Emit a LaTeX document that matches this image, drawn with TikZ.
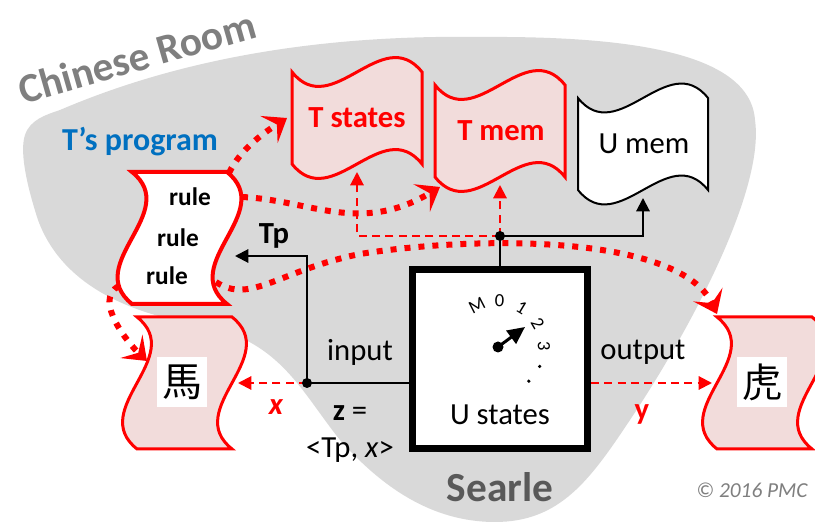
\documentclass[tikz,border=0pt]{standalone}
\usepackage{fontspec}
\setmainfont{Carlito}
\newfontfamily\cjk{Noto Sans CJK TC}
\usetikzlibrary{arrows.meta}

\definecolor{roomgray}{HTML}{D9D9D9}
\definecolor{scrollpink}{HTML}{F2DCDB}
\definecolor{progblue}{HTML}{0070C0}
\definecolor{titlegray}{HTML}{7F7F7F}
\definecolor{searlegray}{HTML}{595959}

\tikzset{
  % horizontal wave banner, origin at its top left corner
  hscroll/.pic={
    \path[pic actions] (0,0) .. controls (40,50) and (90,-50) .. (130,0) -- (130,92)
      .. controls (90,42) and (40,142) .. (0,92) -- cycle;
    \coordinate (-w) at (-5,46);
    \coordinate (-s) at (65,100);
    \coordinate (-sw) at (5,102);
  },
  % upright wave banner, origin at its top left corner
  vscroll/.pic={
    \path[pic actions] (0,0) -- (95,0) .. controls (145,40) and (45,92) .. (95,132) -- (0,132)
      .. controls (-50,92) and (50,40) .. cycle;
    \coordinate (-nw) at (0,-3);
    \coordinate (-ne) at (97,1);
    \coordinate (-e1) at (110,25);
    \coordinate (-e2) at (84,110);
    \coordinate (-e3) at (103,84);
    \coordinate (-e) at (101,66);
    \coordinate (-w1) at (10,44);
    \coordinate (-w2) at (-13,114);
    \coordinate (-w) at (-5,66);
  }
}

\begin{document}
\begin{tikzpicture}[x=0.75pt,y=-0.75pt,
  txt/.style={font=\fontsize{23}{26}\selectfont},
  bold txt/.style={font=\fontsize{23}{26}\selectfont\bfseries},
  rule txt/.style={font=\fontsize{19}{21}\selectfont\bfseries},
  wire/.style={line width=1.5pt},
  red dash/.style={red,line width=1.5pt,dash pattern=on 6pt off 4pt,-{Triangle[length=10pt,width=10pt]}},
  red dots/.style={red,line width=4.5pt,dash pattern=on 4.5pt off 6pt,-{Stealth[length=16pt,width=24pt,inset=7pt]}}]
  \useasboundingbox (0,0) rectangle (815,523);

  % the room
  \fill[roomgray] (60,110) .. controls (200,50) and (350,35) .. (480,37)
    .. controls (620,36) and (750,50) .. (755,120)
    .. controls (765,190) and (690,330) .. (630,420)
    .. controls (590,480) and (560,522) .. (495,522)
    .. controls (430,522) and (380,485) .. (340,440)
    .. controls (300,390) and (280,340) .. (200,325)
    .. controls (120,312) and (60,280) .. (38,220)
    .. controls (25,180) and (20,150) .. (25,135)
    .. controls (30,120) and (45,115) .. (60,110) -- cycle;
  \node[font=\fontsize{31}{34}\selectfont\bfseries,text=titlegray,rotate=16] (room) at (137,57) {Chinese Room};
  \node[font=\fontsize{24}{28}\selectfont\bfseries,text=progblue] (prog) at (140,142) {T’s program};

  % scrolls
  \pic[draw=red,fill=white,line width=3pt] (rl) at (132,172) {vscroll};
  \pic[draw=red,fill=scrollpink,line width=2.25pt] (hs) at (137,317) {vscroll};
  \pic[draw=red,fill=scrollpink,line width=2.25pt] (tg) at (717,317) {vscroll};
  \pic[draw=red,fill=scrollpink,line width=2.25pt] (ts) at (292,72) {hscroll};
  \pic[draw=red,fill=scrollpink,line width=2.25pt] (tm) at (435,85) {hscroll};
  \pic[draw=black,fill=white,line width=1.5pt] (um) at (578,98) {hscroll};

  \node[bold txt,text=red] (tstates) at (357,118) {T states};
  \node[bold txt,text=red] (tmemory) at (501,131) {T mem};
  \node[txt] (umemory) at (644,144) {U mem};
  \node[rule txt] (rule1) at (190,197) {rule};
  \node[rule txt] (rule2) at (178,238) {rule};
  \node[rule txt] (rule3) at (167,276) {rule};
  \node[fill=white,inner sep=0pt,minimum size=37pt,font=\cjk\fontsize{30}{30}\selectfont] (horse) at (182,382) {馬};
  \node[fill=white,inner sep=0pt,minimum size=37pt,font=\cjk\fontsize{30}{30}\selectfont] (tiger) at (762,382) {虎};

  % Searle with his dial
  \node[draw,fill=white,line width=5.25pt,minimum width=131pt,minimum height=134pt] (ustates) at (500,359) {};
  \node[txt] (uslabel) at (500,415) {U states};
  \coordinate (dial) at (498,347);
  \foreach \a/\r/\t in {117/27/M,88/-2/0,59/-31/1,30/-60/2,1/-89/3}
    \node[font=\fontsize{14}{14}\selectfont,rotate=\r] at ([shift={(-\a:46)}]dial) {\t};
  \foreach \a in {25,48}
    \fill ([shift={(\a:46)}]dial) circle (1.8);
  \fill (dial) circle (5.5);
  \draw[line width=2.25pt,-{Triangle[length=13pt,width=12pt]}] (dial) -- ++(27,-20);

  % wires
  \coordinate (jtop) at (500,236);
  \coordinate (jin) at (307,383);
  \draw[red dash] (jtop) -| (ts-s);
  \draw[red dash] (jtop) -- (tm-s);
  \draw[wire,-{Triangle[length=10pt,width=10pt]}] (jtop) -| (um-s);
  \draw[wire] (ustates.north) -- (jtop);
  \fill (jtop) circle (5);
  \draw[wire,-{Triangle[length=10pt,width=10pt]}] (ustates.west |- jin) -- (jin) |- (rl-e3);
  \draw[red dash] (jin) -- (hs-e);
  \fill (jin) circle (5);
  \draw[red dash] (ustates.east |- jin) -- (tg-w);

  \node[bold txt] (tplabel) at (274,236) {Tp};
  \node[txt] (inlabel) at (360,352) {input};
  \node[txt] (outlabel) at (643,352) {output};
  \node[txt] (zlabel) at (350,413) {\textbf{z} =};
  \node[txt] (zvalue) at (350,450) {\textless Tp, \textit{x}\textgreater};
  \node[bold txt,text=red] (xlabel) at (276,407) {\textit{x}};
  \node[bold txt,text=red] (ylabel) at (642,414) {y};
  \node[font=\fontsize{31}{34}\selectfont\bfseries,text=searlegray] (searle) at (500,487) {Searle};
  \node[font=\fontsize{16}{18}\selectfont\itshape,text=titlegray] (copy) at (752,490) {© 2016 PMC};

  % rule lookups
  \draw[red dots] (rl-ne) .. controls (240,150) and (262,134) .. (ts-w);
  \draw[red dots] (rl-e1) .. controls (310,200) and (360,235) .. (tm-sw);
  \draw[red dots] (rl-e2) .. controls (250,305) and (280,270) .. (360,254)
    .. controls (480,235) and (680,235) .. (tg-nw);
  \draw[red dots] (rl-w2) .. controls (92,300) and (130,345) .. (hs-w1);
\end{tikzpicture}
\end{document}
